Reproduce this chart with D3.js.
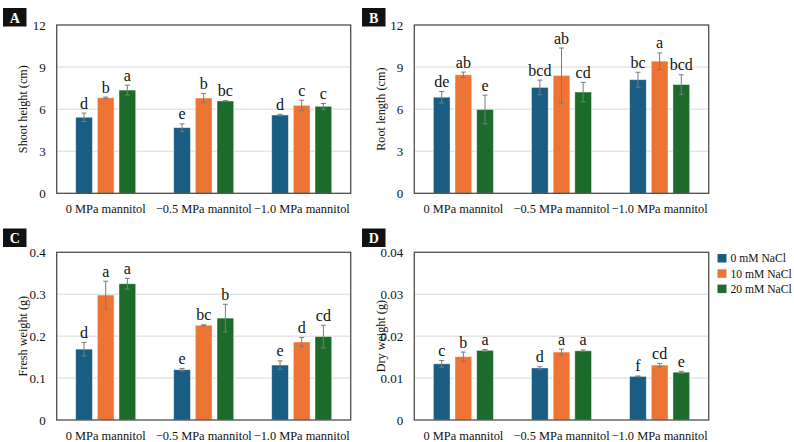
<!DOCTYPE html>
<html><head><meta charset="utf-8">
<script src="https://cdn.jsdelivr.net/npm/d3@7"></script>
</head><body style="margin:0"><svg id="c" width="794" height="442"></svg>
<script>
const FONT = "Liberation Serif";
const categories = ["0 MPa mannitol", "\u22120.5 MPa mannitol", "\u22121.0 MPa mannitol"];
const seriesNames = ["0 mM NaCl", "10 mM NaCl", "20 mM NaCl"];
const colors = ["#1a5d82", "#ed7434", "#1d6b2b"];

// Shoot height (cm)
const shootVals = [[5.42, 4.68, 5.58], [6.81, 6.79, 6.27], [7.36, 6.58, 6.20]];
const shootErr  = [[0.30, 0.27, 0.05], [0.05, 0.33, 0.37], [0.35, 0.03, 0.20]];
const shootLet  = [["d", "e", "d"], ["b", "b", "c"], ["a", "bc", "c"]];
// Root length (cm)
const rootVals = [[6.85, 7.55, 8.10], [8.45, 8.40, 9.42], [5.98, 7.22, 7.75]];
const rootErr  = [[0.41, 0.52, 0.53], [0.19, 1.96, 0.59], [1.02, 0.69, 0.70]];
const rootLet  = [["de", "bcd", "bc"], ["ab", "ab", "a"], ["e", "cd", "bcd"]];
// Fresh weight (g)
const freshVals = [[0.169, 0.120, 0.131], [0.298, 0.226, 0.186], [0.325, 0.243, 0.199]];
const freshErr  = [[0.016, 0.003, 0.010], [0.033, 0.001, 0.011], [0.013, 0.033, 0.027]];
const freshLet  = [["d", "e", "e"], ["a", "bc", "d"], ["a", "b", "cd"]];
// Dry weight (g)
const dryVals = [[0.0134, 0.0124, 0.0104], [0.0151, 0.0162, 0.0131], [0.0166, 0.0165, 0.0114]];
const dryErr  = [[0.0008, 0.0003, 0.0001], [0.0011, 0.0007, 0.0004], [0.0002, 0.0002, 0.0002]];
const dryLet  = [["c", "d", "f"], ["b", "a", "cd"], ["a", "a", "e"]];

const yTicksA = [0, 3, 6, 9, 12];
const yTicksC = [0, 0.1, 0.2, 0.3, 0.4];
const yTicksD = [0, 0.01, 0.02, 0.03, 0.04];

const panels = [
  {tag:"A", title:"Shoot height (cm)", vals:shootVals, err:shootErr, let:shootLet, ticks:yTicksA, fmt:d=>String(d), x0:56.7, x1:350.7, y0:25, y1:193.3, tagX:3, tagY:8, labX:23},
  {tag:"B", title:"Root length (cm)", vals:rootVals, err:rootErr, let:rootLet, ticks:yTicksA, fmt:d=>String(d), x0:414.3, x1:708.7, y0:25, y1:193.3, tagX:362, tagY:8, labX:381},
  {tag:"C", title:"Fresh weight (g)", vals:freshVals, err:freshErr, let:freshLet, ticks:yTicksC, fmt:d=>d===0?"0":d.toFixed(1), x0:56.7, x1:350.7, y0:252.3, y1:420, tagX:3, tagY:228.5, labX:23},
  {tag:"D", title:"Dry weight (g)", vals:dryVals, err:dryErr, let:dryLet, ticks:yTicksD, fmt:d=>d===0?"0":d.toFixed(2), x0:414.3, x1:708.7, y0:252.3, y1:420, tagX:362, tagY:228.5, labX:381}
];

const svg = d3.select("#c");

panels.forEach(p => {
  const g = svg.append("g");
  const x = d3.scaleBand().domain(categories).range([p.x0, p.x1]).paddingInner(0).paddingOuter(0);
  const y = d3.scaleLinear().domain([p.ticks[0], p.ticks[p.ticks.length-1]]).range([p.y1, p.y0]);
  const groupW = 60;
  const xs = d3.scaleBand().domain(seriesNames).range([0, groupW]).paddingInner(0.23).paddingOuter(0);

  g.selectAll(".grid").data(p.ticks.slice(1, -1)).join("line")
    .attr("x1", p.x0).attr("x2", p.x1)
    .attr("y1", d => y(d)).attr("y2", d => y(d))
    .attr("stroke", "#d9d9d9").attr("stroke-width", 1);

  const ya = d3.axisLeft(y).tickValues(p.ticks).tickFormat(p.fmt).tickSize(0).tickPadding(11);
  const yg = g.append("g").attr("transform", `translate(${p.x0},0)`).call(ya);
  yg.select(".domain").remove();
  yg.selectAll("text").attr("fill", "#111").attr("font-family", FONT).attr("font-size", 13);

  const xa = d3.axisBottom(x).tickSize(0).tickPadding(11);
  const xg = g.append("g").attr("transform", `translate(0,${p.y1})`).call(xa);
  xg.select(".domain").remove();
  xg.selectAll("text").attr("fill", "#111").attr("font-family", FONT).attr("font-size", 12.4);

  seriesNames.forEach((s, si) => {
    categories.forEach((c, ci) => {
      const v = p.vals[si][ci], e = p.err[si][ci];
      const bx = x(c) + (x.bandwidth() - groupW) / 2 + xs(s);
      const bw = xs.bandwidth();
      g.append("rect").attr("x", bx).attr("y", y(v)).attr("width", bw).attr("height", y(0) - y(v))
        .attr("fill", colors[si]).attr("stroke", "#ffffff").attr("stroke-opacity", 0.5).attr("stroke-width", 0.8);
      const cx = bx + bw / 2;
      g.append("line").attr("x1", cx).attr("x2", cx).attr("y1", y(v + e)).attr("y2", y(v - e))
        .attr("stroke", "#7a7a7a").attr("stroke-width", 1);
      [v + e, v - e].forEach(t => g.append("line").attr("x1", cx - 2.5).attr("x2", cx + 2.5)
        .attr("y1", y(t)).attr("y2", y(t)).attr("stroke", "#7a7a7a").attr("stroke-width", 1));
      g.append("text").attr("x", cx).attr("y", y(v + e) - 4.5).attr("text-anchor", "middle")
        .attr("font-family", FONT).attr("font-size", 16).attr("fill", "#111").text(p.let[si][ci]);
    });
  });

  g.append("rect").attr("x", p.x0).attr("y", p.y0).attr("width", p.x1 - p.x0).attr("height", p.y1 - p.y0)
    .attr("fill", "none").attr("stroke", "#4d4d4d").attr("stroke-width", 1.3);

  g.append("text").attr("transform", `translate(${p.labX},${(p.y0 + p.y1) / 2}) rotate(-90)`)
    .attr("text-anchor", "middle").attr("dy", "0.35em").attr("font-family", FONT)
    .attr("font-size", 12.2).attr("fill", "#111").text(p.title);

  g.append("rect").attr("x", p.tagX).attr("y", p.tagY).attr("width", 23.5).attr("height", 18.5).attr("fill", "#111");
  g.append("text").attr("x", p.tagX + 11.75).attr("y", p.tagY + 14.5).attr("text-anchor", "middle")
    .attr("font-family", FONT).attr("font-size", 14).attr("font-weight", "bold").attr("fill", "#fff").text(p.tag);
});

const lg = svg.append("g").attr("transform", "translate(717.5,254)");
seriesNames.forEach((s, i) => {
  lg.append("rect").attr("x", 0).attr("y", i * 15.3).attr("width", 9).attr("height", 8.5).attr("fill", colors[i]);
  lg.append("text").attr("x", 13).attr("y", i * 15.3 + 8.3).attr("font-family", FONT)
    .attr("font-size", 11.6).attr("fill", "#111").text(s);
});
</script></body></html>
